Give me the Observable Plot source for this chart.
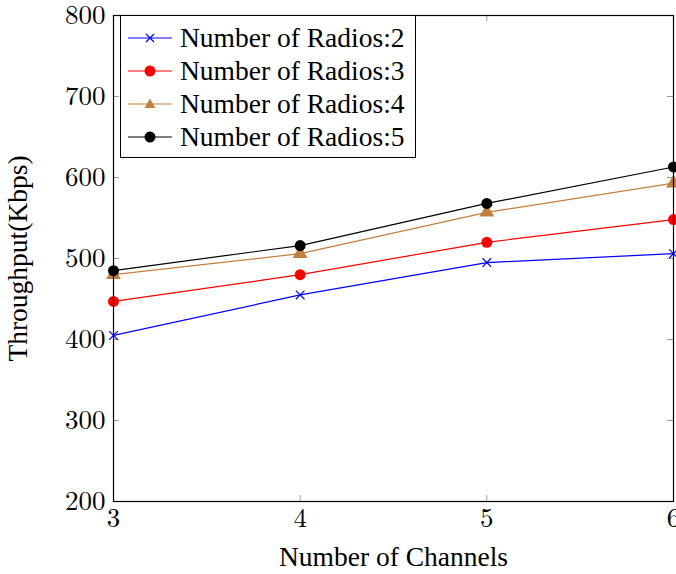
<!DOCTYPE html>
<html>
<head>
<meta charset="utf-8">
<script src="https://cdn.jsdelivr.net/npm/d3@7"></script>
<script src="https://cdn.jsdelivr.net/npm/@observablehq/plot@0.6"></script>
<style>
  body { margin: 0; background: #fff; }
  #wrap { position: relative; width: 676px; height: 574px; font-family: "Liberation Serif", "Times New Roman", serif; }
  #legend { position: absolute; left: 120px; top: 15px; width: 294px; height: 141px; border: 1px solid #000; background: #fff; box-sizing: content-box; }
  .row { position: absolute; left: 0; height: 33px; display: flex; align-items: center; font-size: 27.5px; white-space: nowrap; }
  .row svg { margin-left: 7px; margin-right: 8px; }
</style>
</head>
<body>
<div id="wrap"><div id="legend"></div></div>
<script>
const channels = [3, 4, 5, 6];
const radios2 = [405, 455, 495, 506];
const radios3 = [447, 480, 520, 548];
const radios4 = [480, 506, 557, 593];
const radios5 = [485, 516, 568, 613];
const seriesNames = ["Number of Radios:2", "Number of Radios:3", "Number of Radios:4", "Number of Radios:5"];
const seriesColors = ["#0000ff", "#ff0000", "#bf8040", "#000000"];
const seriesSymbols = ["times", "circle", "triangle", "circle"];
const yTicks = [200, 300, 400, 500, 600, 700, 800];
const xTicks = [3, 4, 5, 6];

const allValues = [radios2, radios3, radios4, radios5];
const rows = [];
allValues.forEach((vals, i) => {
  channels.forEach((c, j) => rows.push({series: seriesNames[i], idx: i, x: c, y: vals[j]}));
});

const W = 676, H = 574, mL = 113, mR = 3, mT = 15, mB = 73;
const pw = W - mL - mR, ph = H - mT - mB;
const tickLen = 6;
const tickColor = "#9a9a9a";
const serif = '"Liberation Serif", "Times New Roman", serif';
const mathFont = '"Latin Modern Roman", "Latin Modern Math", "Liberation Serif", serif';

const marks = [
  Plot.tickY(yTicks, {y: d => d, stroke: tickColor, insetRight: pw - tickLen}),
  Plot.tickY(yTicks, {y: d => d, stroke: tickColor, insetLeft: pw - tickLen}),
  Plot.tickX(xTicks, {x: d => d, stroke: tickColor, insetTop: ph - tickLen}),
  Plot.tickX(xTicks, {x: d => d, stroke: tickColor, insetBottom: ph - tickLen}),
  Plot.axisX({ticks: xTicks, tickSize: 0, tickPadding: 6, fontSize: 27, fontFamily: mathFont, fontVariant: "normal", tickFormat: d3.format("d"), label: null}),
  Plot.axisY({ticks: yTicks, tickSize: 0, tickPadding: 8, fontSize: 27, fontFamily: mathFont, fontVariant: "normal", tickFormat: d3.format("d"), label: null}),
];
seriesNames.forEach((name, i) => {
  const data = rows.filter(r => r.idx === i);
  marks.push(Plot.line(data, {x: "x", y: "y", stroke: seriesColors[i], strokeWidth: 1.2}));
  if (seriesSymbols[i] === "times") {
    marks.push(Plot.dot(data, {x: "x", y: "y", symbol: "times", stroke: seriesColors[i], fill: "none", r: 4, strokeWidth: 1.2}));
  } else {
    marks.push(Plot.dot(data, {x: "x", y: "y", symbol: seriesSymbols[i], fill: seriesColors[i], stroke: "none", r: 5.5}));
  }
});
marks.push(Plot.frame({stroke: "#000", strokeWidth: 1.2}));

const chart = Plot.plot({
  width: W, height: H,
  marginLeft: mL, marginRight: mR, marginTop: mT, marginBottom: mB,
  style: {fontFamily: serif, fontSize: "27.5px", color: "#000", background: "#fff", overflow: "visible"},
  x: {domain: [3, 6], label: "Number of Channels", labelAnchor: "center", labelOffset: 64, labelArrow: "none"},
  y: {domain: [200, 800], label: "Throughput(Kbps)", labelAnchor: "center", labelOffset: 106, labelArrow: "none"},
  marks: [
    Plot.axisX({ticks: [], tickSize: 0, label: "Number of Channels", labelAnchor: "center", labelOffset: 64, labelArrow: "none", fontSize: 27.5, fontFamily: serif}),
    Plot.axisY({ticks: [], tickSize: 0, label: "Throughput(Kbps)", labelAnchor: "center", labelOffset: 106, labelArrow: "none", fontSize: 27.5, fontFamily: serif}),
    ...marks
  ]
});
const wrap = document.getElementById("wrap");
wrap.insertBefore(chart, wrap.firstChild);

const legend = document.getElementById("legend");
seriesNames.forEach((name, i) => {
  const row = document.createElement("div");
  row.className = "row";
  row.style.top = (5 + i * 33) + "px";
  const c = seriesColors[i];
  let marker;
  if (seriesSymbols[i] === "times") {
    marker = `<path d="M18,6 L26,14 M26,6 L18,14" stroke="${c}" stroke-width="1.2"/>`;
  } else if (seriesSymbols[i] === "triangle") {
    marker = `<path d="M22,4.5 L27.5,14 L16.5,14 Z" fill="${c}"/>`;
  } else {
    marker = `<circle cx="22" cy="10" r="5.5" fill="${c}"/>`;
  }
  row.innerHTML = `<svg width="44" height="20"><line x1="0" y1="10" x2="44" y2="10" stroke="${c}" stroke-width="1.2"/>${marker}</svg><span>${name}</span>`;
  legend.appendChild(row);
});
</script>
</body>
</html>
